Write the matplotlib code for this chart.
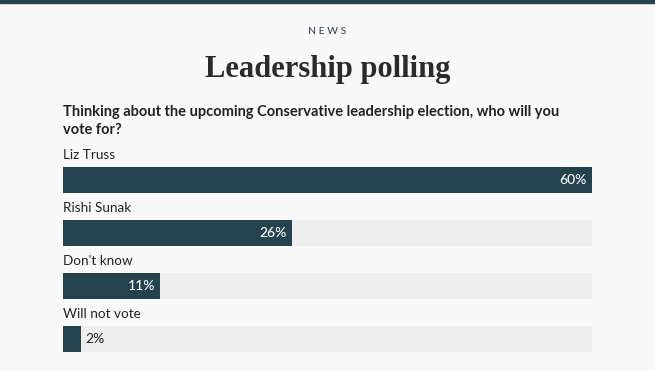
import matplotlib.pyplot as plt

# Poll data
options = ["Liz Truss", "Rishi Sunak", "Don't know", "Will not vote"]
shares = [60, 26, 11, 2]
scale_max = 60

W, H = 655, 371
bg = "#f9f9f9"
bar_color = "#25424f"
track_color = "#eeeeee"
text_color = "#222222"

fig = plt.figure(figsize=(W / 100, H / 100), dpi=100, facecolor=bg)

# top rule
fig.patches.append(plt.Rectangle((0, 1 - 3 / H), 1, 3 / H, transform=fig.transFigure,
                                 color=bar_color, zorder=5))

fig.text(0.5, 1 - 32 / H, "N E W S", ha="center", va="center", fontsize=7.5,
         color="#2a3f55", family="Lato")
fig.text(0.5, 1 - 70 / H, "Leadership polling", ha="center", va="center", fontsize=22,
         color="#2b2b2b", family="Liberation Serif", weight="bold")
fig.text(63 / W, 1 - 112 / H, "Thinking about the upcoming Conservative leadership election, who will you",
         ha="left", va="center", fontsize=10.5, weight="bold", color=text_color, family="Lato")
fig.text(63 / W, 1 - 130 / H, "vote for?",
         ha="left", va="center", fontsize=10.5, weight="bold", color=text_color, family="Lato")

left, right, top, bottom = 63, 592, 167, 352
ax = fig.add_axes([left / W, 1 - bottom / H, (right - left) / W, (bottom - top) / H])
ax.set_facecolor(bg)

pos = list(range(len(options)))
bh = 26 / 53
ax.barh(pos, [scale_max] * len(options), height=bh, color=track_color)
ax.barh(pos, shares, height=bh, color=bar_color)

px = scale_max / (right - left)
for i, (name, v) in enumerate(zip(options, shares)):
    ax.text(0, i - 25 / 53, name, ha="left", va="center", fontsize=9.7,
            color=text_color, family="Lato", clip_on=False)
    if v >= 5:
        ax.text(v - 5 * px, i, f"{v}%", ha="right", va="center", fontsize=10,
                color="white", family="Lato", weight="medium")
    else:
        ax.text(v + 5 * px, i, f"{v}%", ha="left", va="center", fontsize=10,
                color=text_color, family="Lato")

ax.set_xlim(0, scale_max)
ax.set_ylim(len(options) - 1 + 13 / 53, -13 / 53)
ax.axis("off")

fig.savefig("out.png", dpi=100, facecolor=bg)
